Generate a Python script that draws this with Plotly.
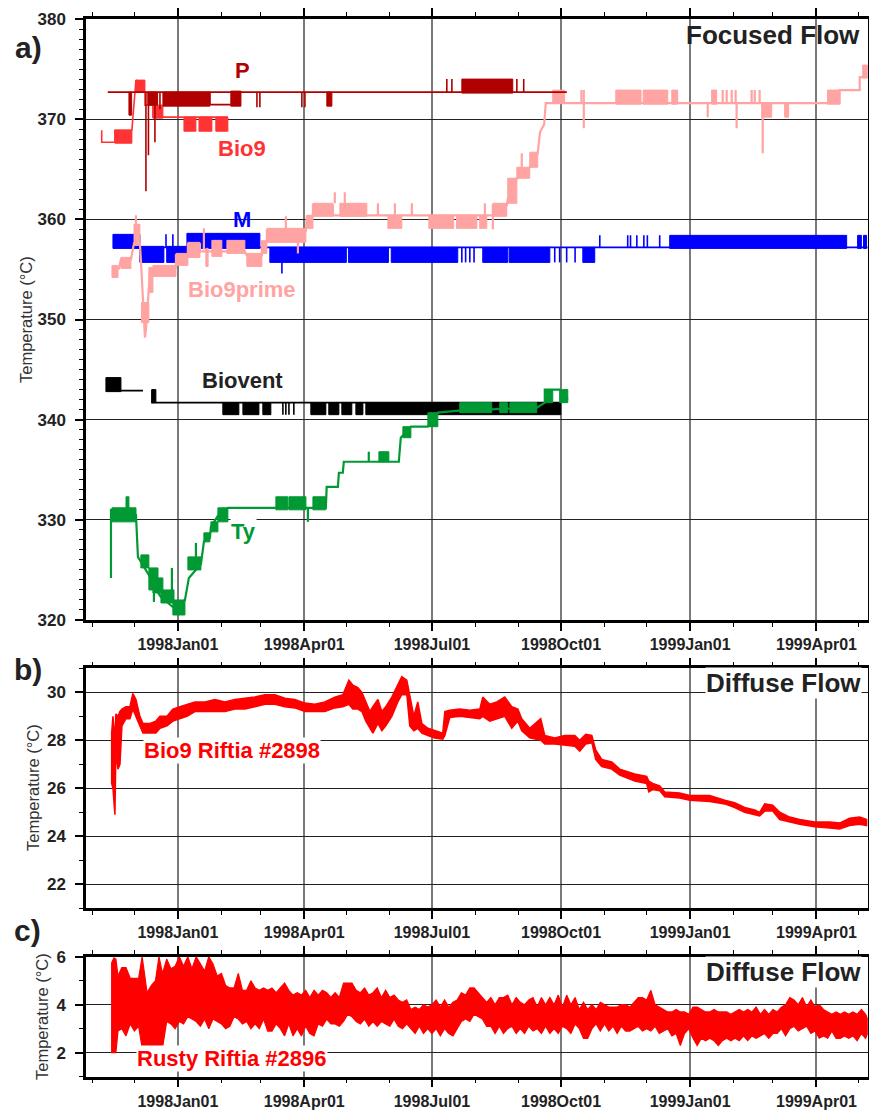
import pandas as pd
import plotly.graph_objects as go

W, H = 869, 1110
FONT = "Liberation Sans, Arial, Helvetica, sans-serif"
T0 = pd.Timestamp("1998-01-01")
X_START, X_END = "1997-10-27 12:00", "1999-05-07 12:00"

# ---------------- Panel a (focused flow), days since 1998-01-01 ----------------
# P
p_line_day = [-50.0, 277.1, None, 22.8, 22.8, 37.7]
p_line_val = [372.7, 372.7, None, 372.7, 371.45, 371.45]
p_blocks = [(-34.9, -33.0, 370.4, 372.7), (-21.4, -14.5, 371.4, 372.7), (-10.7, 22.8, 371.3, 372.7),
            (37.7, 44.9, 371.3, 372.8), (106.1, 109.7, 371.3, 372.7), (202.3, 238.6, 372.6, 374.0)]
p_spikes = [(-22.8, 372.7, 362.8), (-21.0, 372.7, 366.4), (-16.4, 372.7, 367.7), (-12.8, 372.7, 371.0),
            (56.3, 372.7, 371.2), (58.4, 372.7, 371.2), (88.3, 372.7, 371.2), (90.5, 372.7, 371.2),
            (191.6, 372.7, 374.0), (195.2, 372.7, 374.0), (241.5, 372.7, 374.0), (246.4, 372.7, 374.0)]

# Bio9
b9_line_day = [-54.3, -54.3, -44.9, -44.9, -32.8, -32.1, -31.3, -30.6, -29.9, -23.5, -23.5, -17.8, -17.8, -10.7, 4.3, 35.6]
b9_line_val = [368.9, 367.7, 367.7, 368.9, 368.9, 370.0, 371.5, 372.3, 373.9, 372.7, 371.4, 371.4, 370.2, 370.2, 370.2, 370.2]
b9_blocks = [(-44.9, -32.8, 367.6, 368.9), (-29.9, -23.5, 372.7, 373.9), (-17.8, -10.7, 370.1, 371.4),
             (4.3, 12.8, 368.8, 370.2), (15.0, 24.2, 368.8, 370.2), (27.0, 35.6, 368.8, 370.2)]

# Bio9prime
b9p_line_day = [-47.0, -42.0, -40.6, -33.5, -31.3, -27.1, -26.4, -25.0, -23.5, -22.8, -21.4, -20.0, -17.8, -1.4, -1.4,
                7.1, 7.1, 15.7, 15.7, 47.7, 49.1, 59.8, 59.8, 63.4, 63.4, 91.2, 91.9, 96.2, 96.2, 110.4, 110.4,
                224.4, 224.4, 234.3, 235.0, 241.5, 250.7, 256.4, 258.0, 261.0, 262.1, 471.5, 471.5, 485.8, 485.8,
                487.9, 491.5]
b9p_line_val = [355.0, 355.1, 356.0, 356.0, 357.6, 357.6, 356.0, 352.0, 348.2, 349.0, 352.0, 354.5, 355.0, 355.2, 356.4,
                356.4, 357.5, 357.5, 356.8, 356.8, 356.4, 356.4, 357.8, 357.8, 358.9, 358.9, 360.3, 360.3, 361.4, 361.4, 360.4,
                360.4, 361.4, 361.4, 362.0, 364.1, 365.2, 366.6, 368.7, 369.5, 371.6, 371.6, 372.9, 372.9, 374.2,
                374.2, 375.2]
b9p_blocks = [(-47.0, -42.7, 354.2, 355.4), (-40.6, -33.5, 355.1, 356.2), (-31.3, -27.1, 357.4, 359.5),
              (-26.0, -20.7, 349.7, 351.7), (-20.7, -17.8, 352.7, 355.2), (-17.8, -1.4, 354.3, 355.4),
              (-1.4, 7.1, 355.4, 356.6), (7.1, 15.7, 356.2, 357.7), (19.9, 21.5, 355.3, 357.1),
              (24.2, 31.3, 356.3, 357.9), (34.9, 47.7, 356.6, 357.9), (49.1, 59.8, 355.3, 356.6),
              (59.8, 63.4, 356.6, 357.8), (63.4, 91.2, 357.7, 359.1), (91.9, 96.2, 359.1, 360.4),
              (96.2, 110.4, 360.3, 361.6), (115.4, 134.6, 360.3, 361.6), (149.6, 159.5, 359.1, 360.4),
              (178.8, 196.5, 359.1, 360.4), (198.5, 213.0, 359.1, 360.4), (215.0, 220.1, 359.1, 360.4),
              (224.4, 234.3, 360.3, 361.6), (235.0, 241.5, 361.6, 364.1), (241.5, 250.7, 364.1, 365.2),
              (250.7, 256.4, 365.2, 366.7), (267.1, 275.6, 371.6, 372.9), (312.0, 330.0, 371.5, 372.9),
              (331.5, 349.0, 371.5, 372.9), (351.9, 356.1, 371.5, 372.9), (380.3, 383.9, 371.5, 372.9),
              (416.0, 423.1, 370.2, 371.6), (432.3, 435.2, 370.2, 371.6), (462.9, 471.5, 371.5, 372.9),
              (487.9, 491.5, 374.1, 375.4)]
b9p_spikes = [(-29.9, 359.5, 360.4), (18.5, 357.0, 359.1), (76.9, 359.1, 360.3), (85.5, 357.7, 356.6),
              (111.8, 361.6, 362.7), (118.9, 361.6, 362.7), (142.5, 360.4, 361.6), (154.6, 360.4, 361.6),
              (166.7, 360.4, 361.6), (218.7, 360.4, 361.6), (224.4, 360.4, 359.0), (245.0, 365.2, 366.6),
              (287.5, 371.6, 372.9), (289.2, 372.9, 369.1), (377.5, 371.6, 370.2), (388.2, 371.6, 372.9),
              (391.0, 371.6, 372.9), (394.6, 371.6, 372.9), (397.4, 371.6, 372.9), (398.1, 371.6, 369.1),
              (408.8, 371.6, 372.9), (411.0, 371.6, 372.9), (414.5, 371.6, 372.9), (416.7, 371.6, 366.6)]

# M
m_line_day = [-46.3, 491.5]
m_line_val = [357.2, 357.2]
m_blocks = [(-46.3, -27.1, 357.1, 358.5), (-27.1, -10.0, 355.7, 357.3), (-8.0, 6.4, 355.7, 357.3),
            (6.4, 58.4, 357.1, 358.6), (65.5, 120.0, 355.7, 357.2), (121.5, 150.0, 355.7, 357.2),
            (152.0, 199.4, 355.7, 357.2), (217.2, 235.0, 355.7, 357.2), (236.0, 265.0, 355.7, 357.2),
            (288.5, 297.0, 355.7, 357.2), (350.4, 476.5, 357.1, 358.4), (484.3, 487.0, 357.1, 358.4),
            (488.5, 490.7, 357.1, 358.4)]
m_spikes = [(74.1, 355.7, 354.6), (-8.5, 357.2, 358.5), (-3.6, 357.2, 358.5), (202.3, 357.2, 355.7),
            (205.0, 357.2, 355.7), (208.0, 357.2, 355.7), (211.0, 357.2, 355.7), (268.5, 357.2, 355.7),
            (272.0, 357.2, 355.7), (277.0, 357.2, 355.7), (283.0, 357.2, 355.7), (300.6, 357.2, 358.4),
            (320.5, 357.2, 358.4), (322.5, 357.2, 358.4), (327.0, 357.2, 358.4), (332.0, 357.2, 358.4),
            (334.5, 357.2, 358.4), (343.3, 357.2, 358.4)]

# Biovent
bv_line_day = [-51.3, -24.9, None, -18.5, -18.5, 272.8]
bv_line_val = [342.9, 342.9, None, 343.0, 341.7, 341.7]
bv_blocks = [(-51.3, -40.6, 342.8, 344.2), (-18.5, -15.7, 341.7, 343.0), (32.0, 43.4, 340.5, 341.7),
             (46.3, 57.7, 340.5, 341.7), (60.5, 66.2, 340.5, 341.7), (94.7, 105.4, 340.5, 341.7),
             (107.5, 114.7, 340.5, 341.7), (116.8, 123.9, 340.5, 341.7), (126.8, 131.8, 340.5, 341.7),
             (133.9, 272.8, 340.5, 341.7)]
bv_spikes = [(74.8, 341.7, 340.5), (76.9, 341.7, 340.5), (79.1, 341.7, 340.5), (82.6, 341.7, 340.5)]

# Ty
ty_line_day = [-47.7, -47.7, -47.0, -29.9, -28.5, -26.4, -20.7, -17.8, -12.1, -3.6, 5.0, 7.8, 16.4, 18.5, 22.8,
               23.5, 28.5, 35.6, 105.4, 106.0, 114.0, 114.7, 117.5, 118.2, 157.4, 158.8, 166.0, 178.1, 185.2,
               200.1, 255.7, 261.4, 261.4, 272.0, 277.8]
ty_line_val = [324.2, 331.0, 331.0, 330.5, 326.3, 325.8, 324.5, 323.5, 322.3, 321.3, 322.0, 324.2, 325.6, 327.8, 328.2,
               329.3, 330.4, 331.2, 331.2, 333.3, 333.3, 334.7, 334.7, 335.8, 335.8, 338.2, 339.3, 339.3, 340.7,
               340.9, 341.2, 341.7, 343.0, 343.0, 342.0]
ty_blocks = [(-47.0, -29.9, 329.8, 331.2), (-37.0, -34.9, 330.5, 332.3), (-26.4, -20.7, 325.2, 326.5),
             (-20.7, -14.2, 323.0, 325.2), (-17.8, -10.7, 322.7, 324.2), (-12.1, -2.8, 321.7, 323.0),
             (-3.6, 5.0, 320.5, 322.0), (7.1, 16.4, 325.0, 326.3), (18.5, 22.8, 327.8, 328.7),
             (23.5, 28.5, 328.8, 329.8), (28.5, 35.6, 329.8, 331.2), (69.8, 78.3, 331.0, 332.3),
             (79.1, 91.2, 331.0, 332.3), (96.2, 105.4, 331.0, 332.3), (143.2, 150.3, 335.8, 336.8),
             (160.3, 166.0, 338.2, 339.3), (178.1, 185.2, 339.3, 340.7), (200.8, 223.6, 340.7, 341.7),
             (229.3, 235.0, 340.7, 341.7), (236.5, 255.7, 340.7, 341.7), (261.4, 267.1, 341.7, 343.0),
             (272.0, 277.8, 341.7, 343.0)]
ty_spikes = [(-4.3, 322.0, 325.2), (-17.1, 323.0, 321.8), (12.8, 326.3, 327.7), (92.6, 331.2, 329.8),
             (136.0, 335.8, 336.8)]

# ---------------- Panel b (Bio9 Riftia #2898) ----------------
b_day = [-47.2, -46.3, -44.9, -44.2, -42.7, -41.3, -39.9, -37.0, -34.2, -32.1,
         -29.9, -27.1, -24.9, -19.9, -15.7, -12.8, -7.8, -3.6, 1.4, 6.4,
         12.1, 19.2, 26.4, 33.5, 40.6, 47.7, 54.8, 62.0, 69.1, 76.2,
         83.3, 90.5, 97.6, 104.7, 111.8, 117.5, 121.8, 124.6, 128.2, 131.1,
         133.9, 136.8, 138.9, 142.5, 145.3, 148.1, 152.4, 156.7, 159.5, 163.1,
         165.2, 168.1, 170.9, 173.8, 178.1, 183.0, 188.7, 190.2, 193.7, 200.9,
         208.0, 215.1, 217.2, 222.2, 227.2, 232.9, 237.9, 242.2, 245.0, 250.7,
         258.5, 261.4, 268.5, 275.6, 282.8, 286.3, 290.6, 294.9, 297.7, 302.0,
         309.1, 314.8, 325.5, 334.0, 335.5, 338.3, 343.3, 346.9, 357.5, 364.7,
         378.9, 389.6, 396.7, 403.8, 411.0, 414.5, 418.1, 423.8, 428.8, 435.9,
         443.0, 453.7, 464.4, 471.5, 478.6, 485.8, 490.8]
b_hi = [28.3, 29.0, 28.0, 29.1, 29.0, 29.2, 29.3, 29.4, 29.4, 29.95,
        29.7, 29.0, 28.7, 28.7, 28.8, 29.0, 29.0, 29.3, 29.4, 29.5,
        29.6, 29.6, 29.7, 29.6, 29.7, 29.75, 29.8, 29.9, 29.9, 29.75,
        29.7, 29.55, 29.5, 29.6, 29.8, 29.9, 30.5, 30.3, 30.2, 30.0,
        29.6, 29.2, 29.4, 29.7, 29.2, 29.4, 29.8, 30.3, 30.65, 30.5,
        29.8, 29.0, 29.6, 28.7, 28.5, 28.4, 28.3, 29.2, 29.25, 29.3,
        29.25, 29.3, 29.8, 29.5, 29.6, 29.8, 29.4, 29.3, 28.9, 28.5,
        28.9, 28.2, 28.1, 28.2, 28.2, 28.0, 28.25, 28.2, 27.6, 27.2,
        27.1, 26.8, 26.6, 26.5, 26.3, 26.2, 26.1, 25.85, 25.8, 25.7,
        25.7, 25.5, 25.4, 25.2, 25.1, 25.0, 25.35, 25.3, 25.0, 24.8,
        24.7, 24.6, 24.6, 24.55, 24.75, 24.8, 24.7]
b_lo = [26.2, 26.0, 24.9, 27.5, 26.8, 27.0, 28.6, 28.9, 28.9, 29.3,
        29.0, 28.6, 28.3, 28.3, 28.3, 28.5, 28.6, 28.8, 28.9, 29.0,
        29.2, 29.2, 29.2, 29.2, 29.3, 29.3, 29.4, 29.5, 29.5, 29.4,
        29.35, 29.2, 29.2, 29.2, 29.35, 29.4, 29.5, 29.3, 29.3, 29.2,
        28.8, 28.5, 28.3, 28.7, 28.4, 28.6, 29.0, 29.6, 29.9, 29.9,
        28.6, 28.4, 28.5, 28.3, 28.2, 28.1, 28.05, 28.2, 28.95, 29.0,
        28.95, 28.9, 29.0, 28.8, 28.9, 29.0, 28.5, 28.8, 28.4, 28.1,
        28.0, 27.85, 27.85, 27.8, 27.75, 27.55, 27.85, 27.9, 27.2, 26.9,
        26.8, 26.55, 26.3, 26.2, 25.85, 25.95, 25.9, 25.65, 25.6, 25.5,
        25.45, 25.35, 25.2, 25.0, 24.9, 24.85, 25.05, 25.05, 24.7, 24.6,
        24.5, 24.4, 24.35, 24.3, 24.45, 24.5, 24.45]

# ---------------- Panel c (Rusty Riftia #2896) ----------------
c_day = [-47.2, -45.6, -44.2, -42.7, -40.0, -37.0, -34.0, -31.0, -28.0, -25.5,
         -22.0, -19.0, -16.0, -13.5, -11.0, -8.0, -5.0, -2.0,
         1, 4, 7, 10, 13, 16, 19, 22, 25, 28,
         31, 34, 37, 40, 43, 46, 49, 52, 55, 58,
         61, 64, 67, 70, 73, 76, 79, 82, 85, 88,
         91, 94, 97, 100, 103, 106, 109, 112, 115, 118,
         121, 124, 127, 130, 133, 136, 139, 142, 145, 148,
         151, 154, 157, 160, 163, 166, 169, 172, 175, 178,
         181, 184, 187, 190, 193, 196, 199, 202, 205, 208,
         211, 214, 217, 220, 223, 226, 229, 232, 235, 238,
         241, 244, 247, 250, 253, 256, 259, 262, 265, 268,
         271, 274, 277, 280, 283, 286, 289, 292, 295, 298,
         301, 304, 307, 310, 313, 316, 319, 322, 325, 328,
         331, 334, 337, 340, 343, 346, 349, 352, 355, 358,
         361, 364, 367, 370, 373, 376, 379, 382, 385, 388,
         391, 394, 397, 400, 403, 406, 409, 412, 415, 418,
         421, 424, 427, 430, 433, 436, 439, 442, 445, 448,
         451, 454, 457, 460, 463, 466, 469, 472, 475, 478,
         481, 484, 487, 490, 491.5]
c_hi = [5.75, 5.95, 5.9, 5.2, 5.55, 5.55, 5.1, 5.1, 5.1, 6.0,
        4.5, 4.8, 5.0, 6.0, 5.3, 5.9, 5.5, 5.6,
        6.0, 5.6, 6.0, 5.5, 6.0, 5.7, 5.4, 6.0, 5.7, 5.2,
        5.3, 4.8, 4.7, 4.7, 5.3, 4.6, 4.6, 5.0, 4.7, 4.6,
        4.7, 4.6, 4.7, 4.5, 4.7, 4.9, 4.6, 4.4, 4.5, 4.4,
        4.6, 4.3, 4.6, 4.4, 4.6, 4.5, 4.3, 4.5, 4.3, 4.9,
        4.9, 4.9, 4.6, 4.5, 4.7, 4.4, 4.5, 4.7, 4.3, 4.6,
        4.3, 4.4, 4.2, 4.1, 4.2, 3.8, 3.9, 3.8, 4.0, 3.9,
        4.0, 4.2, 3.9, 4.2, 3.9, 4.1, 4.2, 4.5, 4.4, 4.7,
        4.7, 4.5, 4.3, 4.1, 4.3, 4.0, 4.3, 4.3, 4.4, 4.0,
        4.3, 4.1, 4.0, 4.2, 4.3, 3.9, 4.3, 4.0, 4.3, 4.0,
        4.4, 3.9, 4.4, 4.0, 4.3, 3.8, 4.1, 3.8, 4.0, 3.8,
        4.1, 4.0, 3.9, 3.9, 3.9, 4.0, 4.0, 3.9, 4.1, 4.3,
        4.3, 4.2, 4.6, 4.0, 3.9, 3.8, 3.7, 3.7, 3.8, 3.7,
        3.7, 3.6, 3.9, 3.9, 3.8, 3.7, 3.7, 3.8, 3.7, 3.7,
        3.7, 3.6, 3.7, 3.8, 3.7, 3.8, 3.7, 3.9, 3.6, 3.8,
        3.6, 3.8, 3.7, 3.9, 4.0, 4.3, 4.2, 4.0, 4.3, 3.9,
        4.2, 3.9, 4.0, 3.8, 3.7, 3.6, 3.7, 3.6, 3.7, 3.6,
        3.7, 3.6, 3.8, 3.6, 3.4]
c_lo = [2.0, 2.0, 2.0, 2.9, 3.0, 2.7, 3.2, 2.9, 3.1, 2.2,
        2.2, 2.2, 2.2, 2.3, 2.2, 3.3, 3.2, 3.0,
        3.3, 3.2, 3.5, 3.4, 3.3, 3.1, 3.4, 3.0, 3.4, 3.3,
        3.2, 3.0, 3.1, 3.5, 3.4, 3.2, 3.3, 3.0, 3.2, 3.0,
        3.4, 2.9, 2.9, 3.2, 3.0, 2.7, 3.2, 2.7, 3.0, 2.7,
        3.1, 2.8, 2.7, 3.2, 3.1, 3.4, 3.2, 3.2, 3.1, 3.3,
        3.6, 3.5, 3.3, 3.2, 3.4, 3.1, 3.3, 3.1, 3.3, 3.2,
        3.1, 3.4, 3.1, 3.0, 3.2, 3.0, 2.8, 3.1, 2.8, 3.0,
        2.8, 3.0, 2.7, 3.0, 2.8, 2.7, 3.0, 3.3, 3.4, 3.3,
        3.6, 3.5, 3.4, 3.1, 3.1, 2.8, 3.1, 2.8, 3.0, 3.1,
        2.8, 3.0, 2.8, 3.1, 2.9, 3.0, 2.8, 3.1, 2.8, 3.0,
        2.8, 3.1, 3.0, 2.8, 3.2, 3.0, 2.6, 2.6, 3.0, 3.2,
        2.9, 3.2, 2.9, 3.1, 2.8, 3.1, 2.9, 2.9, 3.0, 3.1,
        2.9, 3.0, 2.9, 3.1, 2.8, 2.9, 3.0, 2.7, 2.8, 2.3,
        2.8, 3.0, 2.6, 2.3, 2.6, 2.5, 2.6, 2.5, 2.3, 2.5,
        2.6, 2.5, 2.6, 2.5, 2.7, 2.5, 2.7, 2.6, 2.7, 2.8,
        2.6, 2.8, 2.8, 3.0, 2.7, 3.0, 3.1, 2.9, 3.0, 3.1,
        2.8, 2.9, 2.6, 2.7, 2.6, 2.9, 2.6, 2.6, 2.7, 2.6,
        2.7, 2.5, 2.8, 2.6, 2.8]

# ---------------- helpers ----------------
def dates(days):
    return [None if d is None else (T0 + pd.Timedelta(days=d)).strftime("%Y-%m-%d %H:%M:%S") for d in days]

def line_tr(days, vals, color, ax, width=1.6):
    return go.Scatter(x=dates(days), y=vals, mode="lines", line=dict(color=color, width=width),
                      xaxis="x" + ax, yaxis="y" + ax, hoverinfo="skip", showlegend=False, connectgaps=False)

def block_tr(blocks, color, ax):
    xs, ys = [], []
    for d0, d1, lo, hi in blocks:
        xs += [d0, d1, d1, d0, d0, None]
        ys += [lo, lo, hi, hi, lo, None]
    return go.Scatter(x=dates(xs), y=ys, mode="lines", fill="toself", fillcolor=color,
                      line=dict(color=color, width=1), xaxis="x" + ax, yaxis="y" + ax,
                      hoverinfo="skip", showlegend=False)

def spike_tr(spikes, color, ax, width=1.6):
    xs, ys = [], []
    for d, v0, v1 in spikes:
        xs += [d, d, None]
        ys += [v0, v1, None]
    return go.Scatter(x=dates(xs), y=ys, mode="lines", line=dict(color=color, width=width),
                      xaxis="x" + ax, yaxis="y" + ax, hoverinfo="skip", showlegend=False)

def band_tr(days, hi, lo, color, ax, width=1.5):
    xs = days + days[::-1] + [days[0]]
    ys = hi + lo[::-1] + [hi[0]]
    return go.Scatter(x=dates(xs), y=ys, mode="lines", fill="toself", fillcolor=color,
                      line=dict(color=color, width=width), xaxis="x" + ax, yaxis="y" + ax,
                      hoverinfo="skip", showlegend=False)

C_P, C_B9, C_B9P, C_M, C_BV, C_TY, C_RED = "#B00000", "#FF3333", "#FFA3A3", "#0000FF", "#000000", "#009933", "#FF0000"

fig = go.Figure()
for days, vals, blocks, spikes, color in [
        (bv_line_day, bv_line_val, bv_blocks, bv_spikes, C_BV),
        (ty_line_day, ty_line_val, ty_blocks, ty_spikes, C_TY),
        (m_line_day, m_line_val, m_blocks, m_spikes, C_M),
        (b9p_line_day, b9p_line_val, b9p_blocks, b9p_spikes, C_B9P),
        (b9_line_day, b9_line_val, b9_blocks, [], C_B9),
        (p_line_day, p_line_val, p_blocks, p_spikes, C_P)]:
    w = 2.2 if color in (C_B9P, C_TY) else 1.6
    fig.add_trace(line_tr(days, vals, color, "", w))
    fig.add_trace(block_tr(blocks, color, ""))
    if spikes:
        fig.add_trace(spike_tr(spikes, color, "", w))

fig.add_trace(band_tr(b_day, b_hi, b_lo, C_RED, "2", 1.5))
fig.add_trace(band_tr(c_day, c_hi, c_lo, C_RED, "3", 1.2))

ytickfont = dict(family=FONT, size=17, color="#222222", weight="bold")
xtickfont = dict(family=FONT, size=16, color="#222222", weight="bold")
XDOM = [86 / W, 867.7 / W]

def xax(anchor):
    return dict(type="date", range=[X_START, X_END], domain=XDOM, anchor=anchor, automargin=False,
                tickmode="linear", tick0="1998-01-01", dtick="M3", tickformat="%Y%b%d",
                ticks="outside", ticklen=8, tickwidth=1.5, tickcolor="black",
                minor=dict(tickmode="linear", tick0="1997-11-01", dtick="M1", ticks="outside",
                           ticklen=4, tickwidth=1.2, tickcolor="black", showgrid=False),
                showline=True, linewidth=2.5, linecolor="black", mirror="allticks",
                showgrid=True, gridcolor="#7a7a7a", gridwidth=1.5, zeroline=False,
                tickfont=xtickfont, ticklabelstandoff=0, fixedrange=True)

def yax(anchor, rng, tick0, dtick, top_px, bot_px):
    return dict(range=rng, domain=[1 - bot_px / H, 1 - top_px / H], anchor=anchor, automargin=False,
                tickmode="linear", tick0=tick0, dtick=dtick,
                ticks="outside", ticklen=8, tickwidth=1.5, tickcolor="black",
                minor=dict(tickmode="linear", tick0=tick0, dtick=1, ticks="outside", ticklen=4, tickwidth=1.2,
                           tickcolor="black", showgrid=False),
                showline=True, linewidth=2.5, linecolor="black", mirror=True,
                showgrid=True, gridcolor="#222222", gridwidth=1, zeroline=False,
                tickfont=ytickfont, ticklabelstandoff=6, fixedrange=True)

def ann(text, px, py, size, color, xanchor="center", bold=True, bg=None, angle=0):
    d = dict(text=text, x=px / W, y=1 - py / H, xref="paper", yref="paper", xanchor=xanchor,
             yanchor="middle", showarrow=False, textangle=angle,
             font=dict(family=FONT, size=size, color=color, weight="bold" if bold else "normal"))
    if bg:
        d["bgcolor"] = bg
        d["borderpad"] = 0
    return d

annotations = [
    ann("a)", 28, 47, 30, "#222222"),
    ann("b)", 28, 669, 30, "#222222"),
    ann("c)", 27, 930, 30, "#222222"),
    ann("Focused Flow", 862, 35, 26, "#222222", xanchor="right"),
    ann("Diffuse Flow", 862, 683, 26, "#222222", xanchor="right", bg="white"),
    ann("Diffuse Flow", 862, 972, 26, "#222222", xanchor="right", bg="white"),
    ann("P", 242, 70, 22, C_P),
    ann("Bio9", 242, 149, 22, C_B9),
    ann("M", 242, 220, 22, C_M),
    ann("Bio9prime", 242, 289, 22, C_B9P),
    ann("Biovent", 242, 380, 22, "#222222"),
    ann("Ty", 230, 531, 22, C_TY, xanchor="left", bg="white"),
    ann("Bio9 Riftia #2898", 232, 750, 22, C_RED, bg="white"),
    ann("Rusty Riftia #2896", 232, 1058, 22, C_RED, bg="white"),
    ann("Temperature (°C)", 26, 320, 16.5, "#333333", bold=False, angle=-90),
    ann("Temperature (°C)", 33, 788, 16.5, "#333333", bold=False, angle=-90),
    ann("Temperature (°C)", 42, 1017, 16.5, "#333333", bold=False, angle=-90),
]

fig.update_layout(
    template="none",
    width=W, height=H, margin=dict(l=0, r=0, t=0, b=0, autoexpand=False),
    paper_bgcolor="white", plot_bgcolor="white", showlegend=False,
    font=dict(family=FONT, color="#222222"),
    xaxis=xax("y"), xaxis2=xax("y2"), xaxis3=xax("y3"),
    yaxis=yax("x", [320, 380], 320, 10, 19, 620),
    yaxis2=yax("x2", [21, 31], 22, 2, 668.3, 908.3),
    yaxis3=yax("x3", [1, 6], 2, 2, 956.7, 1076.7),
    annotations=annotations,
)

fig.write_html("out.html")
